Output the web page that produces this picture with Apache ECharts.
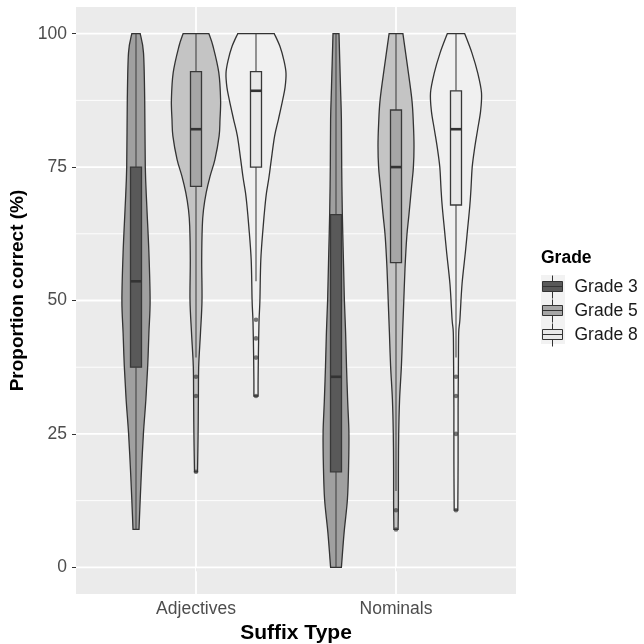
<!DOCTYPE html>
<html>
<head>
<meta charset="utf-8">
<script src="https://cdn.jsdelivr.net/npm/echarts@6/dist/echarts.min.js"></script>
<style>html,body{margin:0;padding:0;background:#fff;overflow:hidden}#c{width:644px;height:644px}</style>
</head>
<body>
<div id="c"></div>
<script>
// ---------- data ----------
const suffixTypes = ['Adjectives', 'Nominals'];
const grades = ['Grade 3', 'Grade 5', 'Grade 8'];
const yTicks = [0, 25, 50, 75, 100];
const yMinorTicks = [12.5, 37.5, 62.5, 87.5];

// violin profiles: [value, relative density width]
const violinAdjG3 = [[100,.14],[96.4,.25],[87.6,.29],[75,.31],[67.7,.36],[59,.43],[50,.47],[43.9,.43],[37.7,.39],[31.5,.33],[25.3,.25],[19,.19],[12.7,.14],[7.1,.10]];
const violinAdjG5 = [[100,.43],[97.6,.57],[92.7,.76],[87.6,.82],[83.9,.8],[80.8,.77],[76.4,.63],[73.3,.47],[70.2,.34],[67,.25],[63.9,.21],[57.6,.19],[50,.2],[44,.15],[37.7,.09],[32,.08],[25,.07],[17.9,.05]];
const violinAdjG8 = [[100,.61],[97.6,.8],[95,.93],[92.6,1],[90,.97],[87.6,.89],[84,.75],[80.8,.62],[76.4,.51],[73,.43],[70.2,.35],[67.7,.3],[63.9,.24],[57.6,.16],[50,.13],[46,.1],[40,.08],[35,.07],[32.1,.07]];
const violinNomG3 = [[100,.1],[90,.15],[83.9,.18],[75,.19],[66.5,.21],[57,.25],[50,.28],[44,.32],[37.7,.35],[31,.39],[25.3,.43],[19,.42],[12.7,.38],[6.5,.27],[0,.18]];
const violinNomG5 = [[100,.23],[94,.38],[87.6,.53],[83,.58],[78.9,.6],[75,.58],[71.4,.52],[66,.43],[62,.36],[56,.3],[50,.26],[44,.22],[37.7,.18],[31.5,.12],[25,.09],[18,.08],[12,.08],[7.1,.07]];
const violinNomG8 = [[100,.29],[96.4,.53],[92.5,.73],[88.9,.85],[85.5,.82],[82,.72],[78.5,.62],[75,.54],[71,.5],[67.7,.46],[63,.38],[58.9,.31],[53,.2],[46.4,.13],[44,.09],[38,.08],[30,.07],[20,.07],[10.7,.06]];

// box stats per grade: [lower whisker, Q1, median, Q3, upper whisker]
const boxAdjectives = [[7.1,37.5,53.6,75,100],[39.3,71.4,82.1,92.9,100],[53.6,75,89.3,92.9,100]];
const boxNominals   = [[0,17.9,35.7,66.1,100],[14.3,57.1,75,85.7,100],[39.3,67.9,82.1,89.3,100]];
const outliersAdjectives = [[],[35.7,32.1,17.9],[46.4,42.9,39.3,32.1]];
const outliersNominals   = [[],[10.7,7.1],[35.7,32.1,25,10.7]];

// ---------- styling ----------
const violins = [[violinAdjG3, violinAdjG5, violinAdjG8],[violinNomG3, violinNomG5, violinNomG8]];
const boxes = [boxAdjectives, boxNominals];
const outliers = [outliersAdjectives, outliersNominals];
const dodge = [-0.3, 0, 0.3];
const violinHalf = 0.15;
const boxWidth = 0.055;
const violinFills = ['#a0a0a0', '#c4c4c4', '#f0f0f0'];
const boxFills = ['#595959', '#a6a6a6', '#e8e8e8'];
const FONT = 'Liberation Sans, Arial, Helvetica, sans-serif';

function curve(pts) {
  let s = '';
  for (let k = 0; k < pts.length - 1; k++) {
    const p0 = pts[k-1] || pts[k], p1 = pts[k], p2 = pts[k+1], p3 = pts[k+2] || pts[k+1];
    const c1 = [p1[0] + (p2[0]-p0[0])/6, p1[1] + (p2[1]-p0[1])/6];
    const c2 = [p2[0] - (p3[0]-p1[0])/6, p2[1] - (p3[1]-p1[1])/6];
    s += ' C' + c1[0] + ',' + c1[1] + ' ' + c2[0] + ',' + c2[1] + ' ' + p2[0] + ',' + p2[1];
  }
  return s;
}

function makeSeries(g) {
  return {
    type: 'custom',
    name: grades[g],
    itemStyle: { color: boxFills[g], borderColor: '#333', borderWidth: 1 },
    data: suffixTypes.map((s, i) => [i + 1].concat(boxes[i][g])),
    encode: { x: 0, y: [1, 2, 3, 4, 5] },
    renderItem: function (params, api) {
      const i = params.dataIndex;
      const xc = api.value(0) + dodge[g];
      const cx = api.coord([xc, 0])[0];
      const unit = api.size([1, 0])[0];
      const Y = v => api.coord([xc, v])[1];
      const prof = violins[i][g];
      const right = prof.map(p => [cx + p[1]*violinHalf*unit, Y(p[0])]);
      const left = prof.slice().reverse().map(p => [cx - p[1]*violinHalf*unit, Y(p[0])]);
      const d = 'M' + right[0][0] + ',' + right[0][1] + curve(right) +
                ' L' + left[0][0] + ',' + left[0][1] + curve(left) + ' Z';
      const b = boxes[i][g];
      const yLo = Y(b[0]), yQ1 = Y(b[1]), yMed = Y(b[2]), yQ3 = Y(b[3]), yHi = Y(b[4]);
      const bw = boxWidth * unit;
      const children = [
        { type: 'path', shape: { pathData: d }, style: { fill: violinFills[g], stroke: '#333', lineWidth: 1.3 } },
        { type: 'line', shape: { x1: cx, y1: yQ3, x2: cx, y2: yHi }, style: { stroke: '#444', lineWidth: 1.1 } },
        { type: 'line', shape: { x1: cx, y1: yQ1, x2: cx, y2: yLo }, style: { stroke: '#444', lineWidth: 1.1 } },
        { type: 'rect', shape: { x: cx - bw/2, y: yQ3, width: bw, height: yQ1 - yQ3 }, style: { fill: boxFills[g], stroke: '#383838', lineWidth: 1.3 } },
        { type: 'line', shape: { x1: cx - bw/2, y1: yMed, x2: cx + bw/2, y2: yMed }, style: { stroke: '#333', lineWidth: 2.6 } }
      ];
      outliers[i][g].forEach(v => {
        children.push({ type: 'circle', shape: { cx: cx, cy: Y(v), r: 2.3 }, style: { fill: '#333', opacity: 0.65 } });
      });
      return { type: 'group', children: children };
    }
  };
}

const gridSeries = {
  type: 'custom',
  silent: true,
  z: 1,
  data: [[1, 0]],
  renderItem: function (params, api) {
    const children = [];
    const x0 = api.coord([0.4, 0])[0], x1 = api.coord([2.6, 0])[0];
    const y0 = api.coord([1, -5])[1], y1 = api.coord([1, 105])[1];
    yMinorTicks.forEach(v => {
      const y = api.coord([1, v])[1];
      children.push({ type: 'line', shape: { x1: x0, y1: y, x2: x1, y2: y }, style: { stroke: '#fff', lineWidth: 0.9 } });
    });
    yTicks.forEach(v => {
      const y = api.coord([1, v])[1];
      children.push({ type: 'line', shape: { x1: x0, y1: y, x2: x1, y2: y }, style: { stroke: '#fff', lineWidth: 1.8 } });
    });
    suffixTypes.forEach((s, i) => {
      const x = api.coord([i + 1, 0])[0];
      children.push({ type: 'line', shape: { x1: x, y1: y0, x2: x, y2: y1 }, style: { stroke: '#fff', lineWidth: 1.8 } });
    });
    return { type: 'group', children: children };
  }
};

const chart = echarts.init(document.getElementById('c'), null, { renderer: 'canvas', width: 644, height: 644 });
chart.setOption({
  animation: false,
  backgroundColor: '#fff',
  grid: { left: 76, width: 440, top: 7, height: 587, show: true, backgroundColor: '#EBEBEB', borderWidth: 0,
          outerBoundsMode: 'none', containLabel: false },
  title: { text: 'Grade', left: 541, top: 249, padding: 0,
    textStyle: { fontFamily: FONT, fontSize: 17.5, fontWeight: 'bold', color: '#000' } },
  legend: {
    orient: 'vertical', left: 542, top: 275, padding: 0, itemWidth: 20, itemHeight: 23, itemGap: 0,
    selectedMode: false,
    data: grades,
    icon: 'path://M10,0 L10,6 M0,6 L20,6 L20,16 L0,16 Z M0,11 L20,11 M10,16 L10,23',
    itemStyle: { borderColor: '#333', borderWidth: 1 },
    textStyle: { fontFamily: FONT, fontSize: 17.5, lineHeight: 20, color: '#1a1a1a', padding: [0, 0, 0, 7] }
  },
  graphic: [{ type: 'rect', left: 541, top: 275, z: -1, shape: { width: 24, height: 69 }, style: { fill: '#F2F2F2' } }],
  xAxis: {
    type: 'value', min: 0.4, max: 2.6,
    name: 'Suffix Type', nameLocation: 'middle', nameGap: 28,
    nameTextStyle: { fontFamily: FONT, fontSize: 21, fontWeight: 'bold', color: '#000' },
    axisLine: { show: false },
    axisTick: { show: true, length: 4, lineStyle: { color: '#333' }, customValues: [1, 2] },
    axisLabel: { customValues: [1, 2], margin: 6, fontFamily: FONT, fontSize: 17.5, color: '#4D4D4D',
      formatter: v => suffixTypes[Math.round(v) - 1] },
    splitLine: { show: false }
  },
  yAxis: {
    type: 'value', min: -5, max: 105,
    name: 'Proportion correct (%)', nameLocation: 'middle', nameGap: 49,
    nameTextStyle: { fontFamily: FONT, fontSize: 19, fontWeight: 'bold', color: '#000', padding: [0, 0, 0, 20] },
    axisLine: { show: false },
    axisTick: { show: true, length: 4, lineStyle: { color: '#333' }, customValues: yTicks },
    axisLabel: { customValues: yTicks, margin: 9, fontFamily: FONT, fontSize: 17.5, color: '#4D4D4D' },
    splitLine: { show: false }
  },
  series: [gridSeries, makeSeries(0), makeSeries(1), makeSeries(2)]
});
</script>
</body>
</html>
